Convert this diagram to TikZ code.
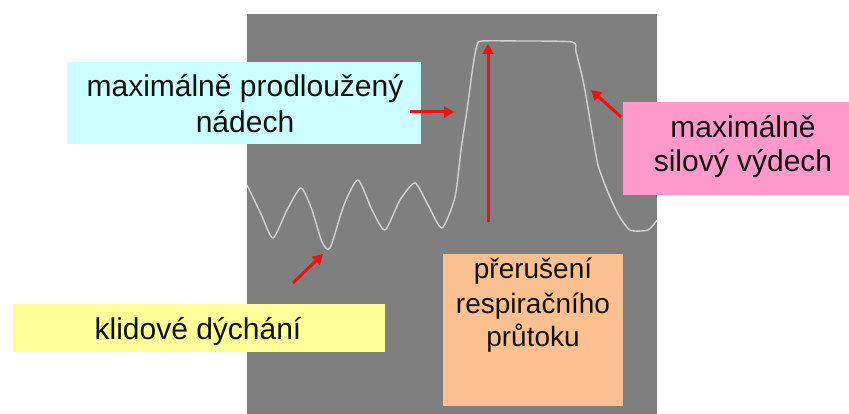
\documentclass[tikz,border=0pt]{standalone}
\usepackage{fontspec}
\setmainfont{Liberation Sans}
\usetikzlibrary{arrows.meta}
\definecolor{bggray}{HTML}{7F7F7F}
\definecolor{cyanbox}{HTML}{CCFFFF}
\definecolor{pinkbox}{HTML}{FF99CC}
\definecolor{yellowbox}{HTML}{FFFF99}
\definecolor{orangebox}{HTML}{FAC090}
\definecolor{curvecol}{HTML}{D2D2D2}
\definecolor{arrowred}{HTML}{EE1111}
\definecolor{txtcol}{HTML}{111111}
\tikzset{
  boxnode/.style={draw=none, inner sep=0pt, anchor=north west},
  bigtxt/.style={anchor=base, inner sep=0pt, text=txtcol, font=\fontsize{30}{36}\selectfont},
  midtxt/.style={anchor=base, inner sep=0pt, text=txtcol, font=\fontsize{28}{33}\selectfont},
  redarrow/.style={draw=arrowred, line width=3pt, -{Triangle[length=10pt, width=11pt]}},
}
\begin{document}
\begin{tikzpicture}[x=1pt, y=-1pt]
\useasboundingbox (0,0) rectangle (849,414);
\fill[white] (0,0) rectangle (849,414);
% gray panel
\node[boxnode, fill=bggray, minimum width=410pt, minimum height=400pt] (panel) at (247,14) {};
% breathing curve
\draw[curvecol, line width=1.4pt, line join=round]
  plot[smooth, tension=0.4] coordinates {
  (247,185) (261,214) (273,238) (287,210) (301,188) (312,210) (322,242) (330,248)
  (344,205) (358,180) (372,210) (385,230) (400,200) (415,183) (428,205) (442,228)
  (455,197) (461,150) (467,110) (473,66) (477,45) (482,41) (520,41) (572,42)
  (576,52) (584,85) (593,138) (598,165) (607,190) (618,214) (630,230) (648,230) (657,220)};
% boxes
\node[boxnode, fill=cyanbox, minimum width=354pt, minimum height=82pt] (cyanb) at (67,62) {};
\node[boxnode, fill=pinkbox, minimum width=226pt, minimum height=93pt] (pinkb) at (623,102) {};
\node[boxnode, fill=yellowbox, minimum width=372pt, minimum height=48pt] (yellowb) at (13,304) {};
\node[boxnode, fill=orangebox, minimum width=180pt, minimum height=152pt] (orangeb) at (443,254) {};
% texts
\node[bigtxt] (c1) at (245,97) {maximálně prodloužený};
\node[bigtxt] (c2) at (245,133) {nádech};
\node[bigtxt] (p1) at (743,138) {maximálně};
\node[bigtxt] (p2) at (743,172) {silový výdech};
\node[bigtxt] (y1) at (198,339) {klidové dýchání};
\node[midtxt] (o1) at (533,279) {přerušení};
\node[midtxt] (o2) at (533,313) {respiračního};
\node[midtxt] (o3) at (533,346) {průtoku};
% arrow end points
\coordinate (a1s) at (410,112); \coordinate (a1e) at (454,112);
\coordinate (a2s) at (488,222); \coordinate (a2e) at (488,44);
\coordinate (a3s) at (621,117); \coordinate (a3e) at (591,90);
\coordinate (a4s) at (293,283); \coordinate (a4e) at (323,254);
\draw[redarrow] (a1s) -- (a1e);
\draw[redarrow] (a2s) -- (a2e);
\draw[redarrow] (a3s) -- (a3e);
\draw[redarrow] (a4s) -- (a4e);
\end{tikzpicture}
\end{document}
